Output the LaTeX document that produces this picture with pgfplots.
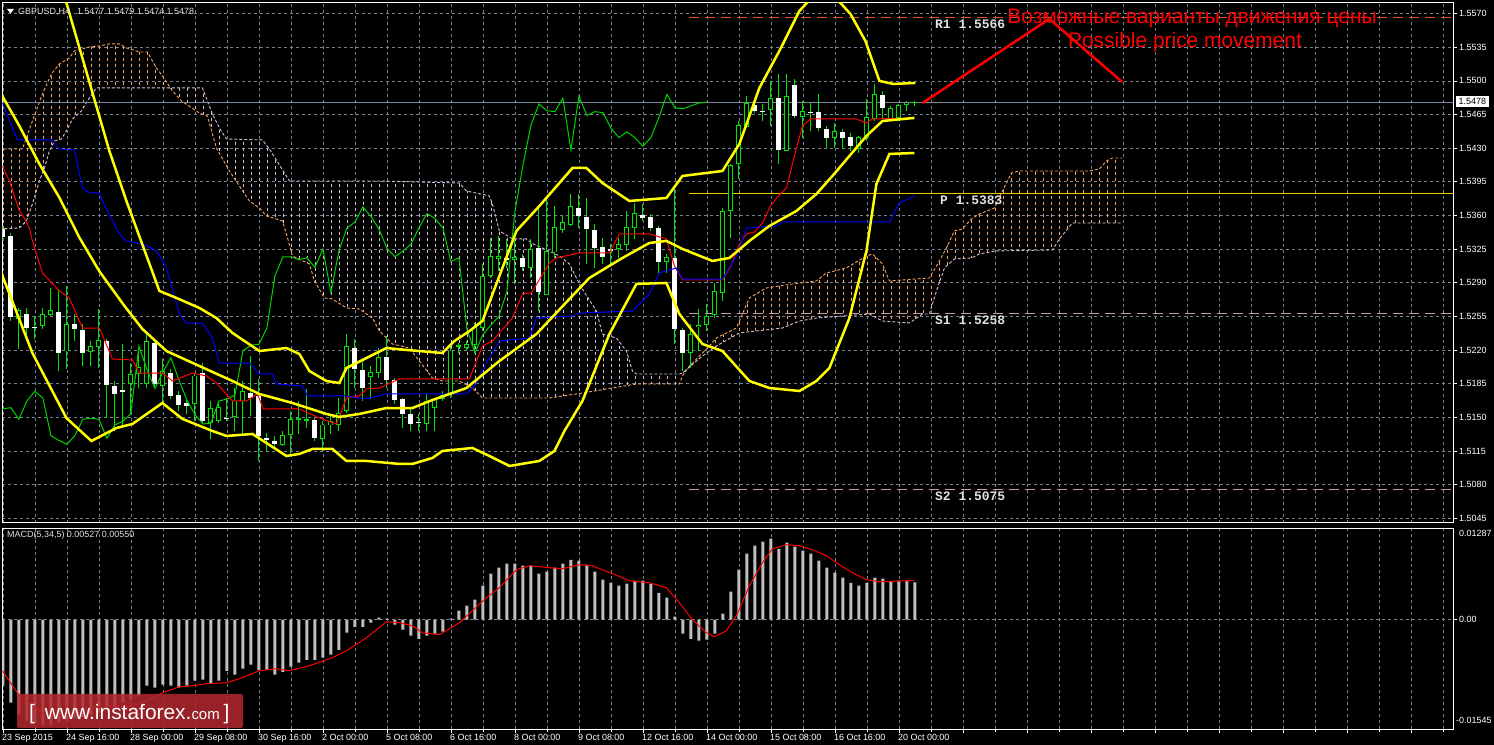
\documentclass[border=0pt]{standalone}
\usepackage{fontspec}
\setmainfont{Liberation Sans}
\newfontfamily\pivfont{Liberation Mono}
\usepackage{xcolor}
\usepackage{pgfplots}
\usepackage{pgfplotstable}
\pgfplotsset{compat=1.18}
\usepgfplotslibrary{fillbetween}
\usetikzlibrary{patterns}
\pagecolor{black}

\definecolor{cgreen}{RGB}{0,230,0}
\definecolor{chik}{RGB}{0,210,0}
\definecolor{gridc}{RGB}{118,130,146}
\definecolor{bbyel}{RGB}{255,255,0}
\definecolor{sandyC}{RGB}{244,164,96}
\definecolor{thistleC}{RGB}{216,191,216}
\definecolor{r1c}{RGB}{225,85,35}
\definecolor{pc}{RGB}{240,200,0}
\definecolor{sc}{RGB}{196,160,160}
\definecolor{lsg}{RGB}{119,136,153}
\definecolor{silverC}{RGB}{192,192,192}
\definecolor{wmred}{RGB}{178,40,46}
\definecolor{kij}{RGB}{0,0,255}
\definecolor{ten}{RGB}{255,0,0}
\definecolor{labc}{RGB}{225,225,225}

\pgfdeclarepatternformonly{vdash}{\pgfqpoint{0bp}{0bp}}{\pgfqpoint{8bp}{6bp}}{\pgfqpoint{8bp}{6bp}}{%
  \pgfsetlinewidth{0.9bp}%
  \pgfpathmoveto{\pgfqpoint{4bp}{0bp}}%
  \pgfpathlineto{\pgfqpoint{4bp}{3.5bp}}%
  \pgfusepath{stroke}}

\pgfplotstableread{
k O H L C
0 1.5346 1.5349 1.5333 1.5338
1 1.5339 1.5342 1.5250 1.5254
2 1.5253 1.5264 1.5221 1.5261
3 1.5258 1.5264 1.5232 1.5243
4 1.5244 1.5255 1.5231 1.5243
5 1.5246 1.5264 1.5242 1.5257
6 1.5257 1.5285 1.5255 1.5261
7 1.5260 1.5284 1.5198 1.5217
8 1.5219 1.5287 1.5200 1.5247
9 1.5247 1.5257 1.5229 1.5242
10 1.5241 1.5247 1.5203 1.5217
11 1.5218 1.5229 1.5203 1.5224
12 1.5224 1.5263 1.5201 1.5230
13 1.5229 1.5232 1.5149 1.5184
14 1.5183 1.5188 1.5136 1.5174
15 1.5178 1.5226 1.5139 1.5176
16 1.5185 1.5206 1.5154 1.5195
17 1.5196 1.5222 1.5180 1.5202
18 1.5185 1.5240 1.5180 1.5229
19 1.5227 1.5232 1.5180 1.5185
20 1.5183 1.5211 1.5164 1.5198
21 1.5196 1.5200 1.5169 1.5172
22 1.5173 1.5177 1.5157 1.5163
23 1.5165 1.5170 1.5153 1.5162
24 1.5164 1.5195 1.5146 1.5193
25 1.5196 1.5206 1.5144 1.5146
26 1.5145 1.5167 1.5127 1.5159
27 1.5147 1.5165 1.5144 1.5160
28 1.5149 1.5170 1.5146 1.5148
29 1.5151 1.5180 1.5136 1.5167
30 1.5167 1.5188 1.5133 1.5177
31 1.5175 1.5214 1.5151 1.5170
32 1.5172 1.5190 1.5105 1.5131
33 1.5128 1.5134 1.5115 1.5126
34 1.5125 1.5131 1.5118 1.5122
35 1.5122 1.5136 1.5120 1.5131
36 1.5132 1.5157 1.5110 1.5148
37 1.5148 1.5167 1.5133 1.5149
38 1.5147 1.5179 1.5139 1.5148
39 1.5147 1.5149 1.5125 1.5128
40 1.5128 1.5146 1.5115 1.5142
41 1.5142 1.5153 1.5133 1.5146
42 1.5143 1.5170 1.5136 1.5154
43 1.5157 1.5237 1.5154 1.5224
44 1.5222 1.5231 1.5180 1.5200
45 1.5199 1.5209 1.5167 1.5180
46 1.5192 1.5203 1.5169 1.5197
47 1.5197 1.5222 1.5191 1.5212
48 1.5213 1.5235 1.5180 1.5189
49 1.5189 1.5191 1.5164 1.5168
50 1.5169 1.5170 1.5139 1.5153
51 1.5153 1.5159 1.5136 1.5143
52 1.5145 1.5153 1.5136 1.5144
53 1.5144 1.5174 1.5136 1.5167
54 1.5160 1.5170 1.5136 1.5169
55 1.5170 1.5177 1.5167 1.5173
56 1.5175 1.5224 1.5170 1.5219
57 1.5224 1.5227 1.5217 1.5225
58 1.5223 1.5229 1.5219 1.5226
59 1.5226 1.5248 1.5217 1.5243
60 1.5243 1.5310 1.5240 1.5297
61 1.5298 1.5337 1.5295 1.5317
62 1.5315 1.5339 1.5302 1.5317
63 1.5316 1.5336 1.5305 1.5314
64 1.5314 1.5334 1.5289 1.5316
65 1.5316 1.5320 1.5302 1.5306
66 1.5306 1.5336 1.5295 1.5325
67 1.5326 1.5368 1.5261 1.5280
68 1.5278 1.5378 1.5277 1.5323
69 1.5322 1.5370 1.5316 1.5347
70 1.5345 1.5359 1.5342 1.5353
71 1.5351 1.5382 1.5349 1.5369
72 1.5368 1.5382 1.5347 1.5359
73 1.5358 1.5378 1.5310 1.5346
74 1.5345 1.5351 1.5305 1.5326
75 1.5327 1.5337 1.5310 1.5317
76 1.5325 1.5330 1.5310 1.5323
77 1.5326 1.5337 1.5316 1.5330
78 1.5330 1.5365 1.5323 1.5347
79 1.5347 1.5373 1.5336 1.5362
80 1.5361 1.5372 1.5354 1.5357
81 1.5358 1.5362 1.5344 1.5347
82 1.5347 1.5349 1.5300 1.5312
83 1.5312 1.5320 1.5300 1.5316
84 1.5316 1.5388 1.5226 1.5242
85 1.5241 1.5243 1.5198 1.5217
86 1.5217 1.5247 1.5201 1.5236
87 1.5244 1.5263 1.5219 1.5246
88 1.5247 1.5268 1.5240 1.5255
89 1.5257 1.5290 1.5253 1.5281
90 1.5280 1.5368 1.5271 1.5364
91 1.5365 1.5414 1.5337 1.5412
92 1.5414 1.5458 1.5398 1.5454
93 1.5453 1.5484 1.5451 1.5476
94 1.5475 1.5477 1.5467 1.5469
95 1.5469 1.5476 1.5458 1.5468
96 1.5470 1.5500 1.5453 1.5482
97 1.5482 1.5507 1.5414 1.5428
98 1.5428 1.5507 1.5427 1.5484
99 1.5496 1.5502 1.5461 1.5464
100 1.5463 1.5479 1.5441 1.5468
101 1.5468 1.5477 1.5448 1.5467
102 1.5468 1.5486 1.5448 1.5451
103 1.5450 1.5453 1.5430 1.5441
104 1.5441 1.5456 1.5430 1.5447
105 1.5447 1.5450 1.5429 1.5441
106 1.5442 1.5446 1.5427 1.5432
107 1.5430 1.5443 1.5425 1.5441
108 1.5441 1.5481 1.5437 1.5462
109 1.5461 1.5497 1.5458 1.5486
110 1.5485 1.5490 1.5461 1.5472
111 1.5461 1.5474 1.5458 1.5471
112 1.5462 1.5476 1.5458 1.5474
113 1.5475 1.5479 1.5469 1.5477
114 1.5477 1.5479 1.5474 1.5478
}\candles

\pgfplotstableread{
k m
0 -0.00930
1 -0.01169
2 -0.01339
3 -0.01423
4 -0.01451
5 -0.01479
6 -0.01479
7 -0.01451
8 -0.01423
9 -0.01395
10 -0.01367
11 -0.01339
12 -0.01310
13 -0.01240
14 -0.01212
15 -0.01169
16 -0.01127
17 -0.01071
18 -0.00930
19 -0.00958
20 -0.00916
21 -0.00930
22 -0.00958
23 -0.00930
24 -0.00859
25 -0.00845
26 -0.00888
27 -0.00859
28 -0.00719
29 -0.00775
30 -0.00690
31 -0.00634
32 -0.00705
33 -0.00705
34 -0.00775
35 -0.00733
36 -0.00662
37 -0.00606
38 -0.00564
39 -0.00564
40 -0.00535
41 -0.00493
42 -0.00423
43 -0.00183
44 -0.00099
45 -0.00099
46 -0.00042
47 0.00028
48 0.00014
49 -0.00070
50 -0.00141
51 -0.00225
52 -0.00268
53 -0.00225
54 -0.00197
55 -0.00169
56 0.00014
57 0.00127
58 0.00197
59 0.00282
60 0.00479
61 0.00648
62 0.00733
63 0.00789
64 0.00789
65 0.00761
66 0.00761
67 0.00648
68 0.00676
69 0.00733
70 0.00789
71 0.00845
72 0.00831
73 0.00775
74 0.00676
75 0.00564
76 0.00521
77 0.00479
78 0.00507
79 0.00550
80 0.00550
81 0.00507
82 0.00380
83 0.00310
84 0.00042
85 -0.00197
86 -0.00268
87 -0.00296
88 -0.00282
89 -0.00197
90 0.00085
91 0.00395
92 0.00705
93 0.00930
94 0.01043
95 0.01099
96 0.01141
97 0.01000
98 0.01085
99 0.01029
100 0.00972
101 0.00930
102 0.00831
103 0.00733
104 0.00662
105 0.00592
106 0.00521
107 0.00479
108 0.00521
109 0.00592
110 0.00578
111 0.00535
112 0.00550
113 0.00550
114 0.00527
}\macdhist

\pgfplotsset{
  mtgrid/.style={grid=both, major grid style={gridc, line width=0.8bp, dash pattern=on 3bp off 3bp},
    minor grid style={gridc, line width=0.8bp, dash pattern=on 3bp off 3bp}},
  wick/.style={draw=none, mark=none, error bars/.cd, y dir=plus, y explicit, error mark=none,
    error bar style={draw=cgreen, line width=1bp, solid}},
  body/.style 2 args={draw=none, mark=none, error bars/.cd, y dir=plus, y explicit, error mark=none,
    error bar style={draw=#1, line width=#2, solid}},
}

\begin{document}
\begin{tikzpicture}[x=1bp,y=1bp]
\path (0,0) rectangle (1494,745);

% ---------------- main price panel (prices plotted relative to 1.5 to keep TeX dimensions small) ----------------
\begin{axis}[
  at={(3,231)}, anchor=south west,
  width=1451bp, height=520bp, scale only axis,
  xmin=-0.0625, xmax=181.3125,
  y filter/.expression={y-1.5},
  ymin=0.00401, ymax=0.05811,
  axis line style={white, line width=1bp},
  xtick={0,4,...,180}, xticklabels={}, xtick style={draw=none},
  ytick={0.0045,0.0080,0.0115,0.0150,0.0185,0.0220,0.0255,0.0290,0.0325,0.0360,0.0395,0.0430,0.0465,0.0500,0.0535,0.0570},
  yticklabels={1.5045,1.5080,1.5115,1.5150,1.5185,1.5220,1.5255,1.5290,1.5325,1.5360,1.5395,1.5430,1.5465,1.5500,1.5535,1.5570},
  ytick pos=right, yticklabel pos=right,
  tick align=outside, major tick length=4bp,
  ytick style={white, line width=0.8bp},
  yticklabel style={white, font=\fontsize{9}{10}\selectfont, inner sep=1.5bp},
  scaled y ticks=false,
  grid=major, major grid style={gridc, line width=0.8bp, dash pattern=on 3bp off 3bp},
]
% Ichimoku cloud
\addplot[name path=spanA, sandyC, line width=0.9bp, dash pattern=on 3bp off 2bp] coordinates {
(-0.44,1.54292) (2.44,1.54292) (3.69,1.54583) (4.94,1.54864) (6.06,1.55072) (7.06,1.55176) (8.31,1.55239) (8.94,1.55312) (10.81,1.55353) (12.06,1.55364) (13.31,1.55385) (14.56,1.55385) (15.44,1.55343) (17.06,1.55301) (18.06,1.55301) (19.19,1.55135) (19.94,1.55052) (21.19,1.54896) (22.31,1.54792) (24.56,1.54667) (25.56,1.54635) (26.69,1.54302) (28.31,1.54063) (30.81,1.53751) (32.06,1.53678) (32.94,1.53595) (34.94,1.53543) (35.44,1.53408) (36.19,1.53179) (38.31,1.53096) (38.94,1.52919) (40.19,1.52742) (41.19,1.52731) (42.94,1.52638) (44.56,1.52627) (46.19,1.52533) (47.06,1.52398) (48.69,1.52263) (50.81,1.52221) (52.06,1.52086) (53.69,1.51909) (54.94,1.51878) (57.06,1.51878) (58.69,1.51805) (59.94,1.51701) (68.31,1.51701) (72.44,1.51753) (79.19,1.51847) (84.56,1.51847) (84.94,1.51930) (85.81,1.52034) (87.44,1.52169) (88.31,1.52242) (89.19,1.52326) (91.69,1.52430) (92.44,1.52575) (93.31,1.52742) (95.44,1.52846) (98.69,1.52887) (101.69,1.52919) (102.94,1.53002) (105.44,1.53054) (107.94,1.53179) (108.69,1.53199) (109.94,1.53096) (110.81,1.52919) (115.81,1.52950) (117.06,1.53127) (117.94,1.53262) (118.94,1.53439) (119.94,1.53460) (121.06,1.53564) (122.06,1.53616) (123.94,1.53678) (124.94,1.53855) (126.06,1.54042) (127.06,1.54063) (135.81,1.54063) (137.06,1.54084) (137.94,1.54167) (138.69,1.54198) (139.94,1.54198)};
\addplot[name path=spanB, thistleC, line width=0.9bp, dash pattern=on 3bp off 2bp] coordinates {
(-0.44,1.53460) (2.06,1.53470) (2.94,1.53543) (3.69,1.53720) (4.56,1.53959) (5.19,1.54094) (5.81,1.54271) (6.44,1.54375) (7.31,1.54396) (7.94,1.54479) (8.69,1.54604) (9.81,1.54687) (10.81,1.54823) (11.69,1.54927) (24.94,1.54927) (26.19,1.54656) (27.06,1.54511) (27.94,1.54396) (32.44,1.54386) (33.31,1.54292) (35.81,1.53959) (47.06,1.53959) (57.06,1.53938) (57.94,1.53855) (60.81,1.53803) (61.19,1.53720) (62.06,1.53439) (63.69,1.53356) (65.44,1.53356) (66.06,1.53314) (69.56,1.53179) (70.81,1.53096) (72.06,1.52888) (72.44,1.52835) (74.19,1.52606) (74.94,1.52367) (76.69,1.52325) (77.94,1.52190) (78.69,1.51982) (79.19,1.51951) (84.56,1.51951) (84.94,1.51961) (87.44,1.52138) (89.19,1.52242) (92.06,1.52378) (97.44,1.52429) (99.56,1.52502) (101.69,1.52533) (108.31,1.52575) (109.94,1.52502) (113.31,1.52481) (114.94,1.52575) (115.81,1.52575) (116.69,1.52815) (117.69,1.53054) (118.94,1.53148) (121.06,1.53158) (122.06,1.53200) (124.19,1.53231) (131.19,1.53241) (132.06,1.53356) (133.69,1.53522) (139.94,1.53522)};
\addplot[pattern=vdash, pattern color=sandyC, draw=none] fill between[of=spanA and spanB, soft clip={domain=-1:20.94}];
\addplot[pattern=vdash, pattern color=thistleC, draw=none] fill between[of=spanA and spanB, soft clip={domain=20.94:85.7}];
\addplot[pattern=vdash, pattern color=sandyC, draw=none] fill between[of=spanA and spanB, soft clip={domain=85.7:141}];

% pivot levels and current price
\addplot[r1c, line width=1bp, dash pattern=on 10bp off 6bp] coordinates {(85.8,1.5566) (182,1.5566)};
\addplot[pc, line width=1bp] coordinates {(85.8,1.5383) (182,1.5383)};
\addplot[sc, line width=1bp, dash pattern=on 10bp off 6bp] coordinates {(85.8,1.5258) (182,1.5258)};
\addplot[sc, line width=1bp, dash pattern=on 10bp off 6bp] coordinates {(85.8,1.5075) (182,1.5075)};
\addplot[lsg, line width=1bp] coordinates {(-1,1.5478) (182,1.5478)};

% candles
\addplot[wick] table[x=k, y=L, y error expr=\thisrow{H}-\thisrow{L}] {\candles};
\addplot[restrict expr to domain={\thisrow{C}-\thisrow{O}}{0:1}, body={cgreen}{5bp}]
  table[x=k, y expr=\thisrow{O}-0.00005, y error expr=\thisrow{C}-\thisrow{O}+0.0001] {\candles};
\addplot[restrict expr to domain={\thisrow{C}-\thisrow{O}}{0:1}, body={black}{3bp}]
  table[x=k, y expr=\thisrow{O}+0.00005, y error expr=\thisrow{C}-\thisrow{O}-0.0001] {\candles};
\addplot[restrict expr to domain={\thisrow{O}-\thisrow{C}}{0:1}, body={white}{5bp}]
  table[x=k, y=C, y error expr=\thisrow{O}-\thisrow{C}] {\candles};

% Ichimoku lines
\addplot[chik, line width=1bp] table[x expr=\thisrow{k}-26, y=C] {\candles};
\addplot[ten, line width=1bp] coordinates {
(-0.06,1.54115) (0.81,1.53959) (2.06,1.53647) (2.69,1.53574) (3.31,1.53470) (3.69,1.53335) (4.94,1.53002) (7.06,1.52815) (8.31,1.52742) (9.94,1.52429) (12.06,1.52429) (13.69,1.52107) (16.19,1.52097) (17.06,1.51961) (19.94,1.51961) (21.19,1.51878) (23.69,1.51961) (25.44,1.51930) (26.69,1.51857) (28.69,1.51670) (30.44,1.51670) (31.81,1.51743) (32.56,1.51587) (37.06,1.51587) (39.56,1.51493) (41.69,1.51431) (42.94,1.51701) (44.56,1.51722) (45.44,1.51795) (47.06,1.51805) (49.56,1.51899) (58.31,1.51899) (59.94,1.52242) (61.19,1.52294) (63.69,1.52533) (64.94,1.52784) (66.06,1.52794) (68.31,1.53106) (69.19,1.53158) (72.06,1.53210) (75.81,1.53210) (77.06,1.53408) (80.81,1.53408) (82.94,1.53356) (83.94,1.53075) (84.94,1.52929) (89.94,1.52929) (90.94,1.53064) (91.94,1.53283) (92.94,1.53408) (93.94,1.53428) (94.94,1.53522) (95.94,1.53699) (96.94,1.53803) (97.94,1.53886) (98.94,1.54219) (99.94,1.54531) (100.94,1.54604) (106.69,1.54604) (107.94,1.54562) (108.69,1.54604) (113.94,1.54615)};
\addplot[kij, line width=1bp] coordinates {
(-0.06,1.54771) (1.81,1.54386) (6.06,1.54386) (7.06,1.54292) (8.94,1.54282) (9.94,1.53886) (10.81,1.53834) (12.06,1.53834) (12.44,1.53751) (14.56,1.53408) (15.44,1.53335) (17.44,1.53304) (19.19,1.53231) (20.44,1.53054) (22.06,1.52575) (22.94,1.52481) (24.94,1.52481) (26.19,1.52325) (27.06,1.52065) (30.81,1.52065) (32.06,1.51951) (33.69,1.51951) (34.19,1.51847) (37.44,1.51826) (38.06,1.51722) (42.94,1.51722) (44.31,1.51701) (45.81,1.51701) (47.94,1.51743) (57.94,1.51743) (59.19,1.51857) (60.44,1.52065) (62.06,1.52294) (65.81,1.52325) (66.69,1.52533) (71.19,1.52554) (72.06,1.52585) (78.69,1.52606) (79.94,1.52711) (80.81,1.52784) (82.06,1.53002) (84.19,1.53054) (84.94,1.52939) (89.94,1.52939) (91.69,1.53179) (92.94,1.53470) (96.69,1.53491) (97.44,1.53533) (110.81,1.53533) (112.06,1.53730) (113.94,1.53803)};

% Bollinger bands
\addplot[bbyel, line width=2.5bp] coordinates {
(5.19,1.56248) (7.94,1.55811) (13.31,1.54271) (15.44,1.53751) (19.56,1.52815) (21.69,1.52742) (24.56,1.52638) (26.69,1.52533) (28.69,1.52378) (32.06,1.52190) (35.44,1.52221) (37.06,1.52159) (38.31,1.51982) (40.44,1.51878) (42.06,1.51857) (42.94,1.52013) (45.44,1.52117) (47.94,1.52221) (50.44,1.52201) (54.94,1.52169) (56.44,1.52294) (58.31,1.52398) (59.94,1.52502) (62.06,1.52971) (64.19,1.53439) (67.06,1.53699) (71.19,1.54094) (72.94,1.54094) (74.94,1.53938) (78.31,1.53751) (82.94,1.53782) (84.94,1.54011) (89.94,1.54063) (92.06,1.54344) (94.56,1.54927) (97.06,1.55312) (99.56,1.55728) (101.44,1.55894) (103.06,1.55915) (104.69,1.55811) (105.94,1.55697) (107.81,1.55416) (109.56,1.55000) (111.31,1.54968) (114.06,1.54979)};
\addplot[bbyel, line width=2.5bp] coordinates {
(-0.44,1.54896) (2.06,1.54531) (4.56,1.54136) (7.06,1.53786) (9.56,1.53370) (12.06,1.53019) (15.19,1.52659) (17.44,1.52419) (20.44,1.52190) (24.56,1.52034) (28.69,1.51878) (32.06,1.51743) (36.19,1.51649) (40.44,1.51535) (42.06,1.51504) (44.56,1.51535) (47.94,1.51597) (51.19,1.51597) (53.69,1.51680) (57.94,1.51805) (62.06,1.52086) (66.69,1.52367) (70.81,1.52731) (73.31,1.52950) (77.44,1.53158) (80.81,1.53314) (82.94,1.53335) (84.94,1.53252) (88.69,1.53127) (90.81,1.53158) (93.31,1.53335) (95.81,1.53491) (99.19,1.53647) (101.69,1.53824) (103.69,1.54011) (107.94,1.54427) (109.94,1.54583) (113.94,1.54615)};
\addplot[bbyel, line width=2.5bp] coordinates {
(-0.44,1.53054) (3.69,1.52169) (7.94,1.51493) (11.06,1.51254) (14.19,1.51389) (16.19,1.51431) (19.94,1.51649) (22.44,1.51483) (26.19,1.51358) (27.94,1.51306) (31.19,1.51327) (35.44,1.51098) (37.06,1.51119) (38.69,1.51171) (41.19,1.51171) (42.94,1.51046) (45.44,1.51046) (49.56,1.51015) (51.19,1.51015) (53.69,1.51077) (54.94,1.51150) (58.69,1.51181) (60.81,1.51098) (63.31,1.50994) (67.06,1.51046) (68.94,1.51150) (70.19,1.51358) (72.44,1.51670) (75.81,1.52367) (79.19,1.52888) (82.94,1.52898) (84.56,1.52575) (87.44,1.52263) (89.94,1.52190) (93.31,1.51878) (95.81,1.51805) (99.56,1.51774) (101.69,1.51878) (103.31,1.52013) (105.81,1.52533) (107.94,1.53231) (109.19,1.53928) (110.81,1.54240) (113.94,1.54250)};

% possible price movement
\addplot[red, line width=2.5bp] coordinates {(114.94,1.5477) (130.8,1.55645)};
\addplot[red, line width=2.5bp] coordinates {(130.8,1.55645) (139.9,1.54989)};
\end{axis}

% ---------------- MACD panel ----------------
\begin{axis}[
  at={(3,22)}, anchor=south west,
  width=1451bp, height=201bp, scale only axis,
  xmin=-0.0625, xmax=181.3125,
  ymin=-0.01545, ymax=0.01287,
  axis line style={white, line width=1bp},
  xtick={0,8,...,176}, minor xtick={4,12,...,180},
  xticklabels={23 Sep 2015,24 Sep 16:00,28 Sep 00:00,29 Sep 08:00,30 Sep 16:00,2 Oct 00:00,5 Oct 08:00,6 Oct 16:00,8 Oct 00:00,9 Oct 08:00,12 Oct 16:00,14 Oct 00:00,15 Oct 08:00,16 Oct 16:00,20 Oct 00:00,,,,,,,,},
  xtick pos=bottom, ytick pos=right,
  tick align=outside, major tick length=4bp, minor tick length=2.5bp,
  tick style={white, line width=0.8bp},
  xticklabel style={white, font=\fontsize{9}{10}\selectfont, anchor=north west, inner sep=0pt, xshift=-1bp, yshift=-1bp},
  ytick={0}, yticklabels={0.00},
  yticklabel style={white, font=\fontsize{9}{10}\selectfont, inner sep=1.5bp},
  scaled y ticks=false,
  mtgrid,
]
\addplot[ybar, bar width=3bp, fill=silverC, draw=none] table[x=k, y=m] {\macdhist};
\addplot[ten, line width=1bp] coordinates {
(-0.06,-0.00719) (2.06,-0.01071) (4.94,-0.01310) (7.94,-0.01353) (12.06,-0.01226) (16.19,-0.01212) (17.44,-0.01169) (19.94,-0.01029) (22.06,-0.00944) (23.69,-0.00930) (25.44,-0.00902) (27.94,-0.00888) (29.56,-0.00831) (32.06,-0.00719) (34.19,-0.00690) (35.81,-0.00719) (38.31,-0.00648) (41.19,-0.00535) (42.94,-0.00437) (45.44,-0.00254) (47.94,-0.00028) (49.56,-0.00042) (51.19,-0.00085) (52.44,-0.00183) (54.56,-0.00211) (57.06,-0.00042) (58.69,0.00127) (60.44,0.00310) (62.06,0.00451) (64.19,0.00705) (65.81,0.00761) (68.31,0.00733) (69.94,0.00719) (72.06,0.00775) (73.69,0.00761) (76.19,0.00648) (78.31,0.00550) (80.81,0.00521) (82.94,0.00451) (84.56,0.00240) (86.19,0.00000) (87.94,-0.00183) (88.94,-0.00240) (90.44,-0.00155) (91.69,0.00056) (93.31,0.00479) (94.94,0.00803) (96.19,0.01000) (97.94,0.01057) (99.56,0.01043) (101.19,0.00986) (102.94,0.00902) (104.56,0.00775) (106.19,0.00662) (107.94,0.00564) (109.56,0.00535) (113.31,0.00550) (113.94,0.00550)};
\end{axis}

% ---------------- texts and decorations ----------------
\fill[white] (7,736) -- (14,736) -- (10.5,731.5) -- cycle;
\node[anchor=base west, inner sep=0pt, text=labc, font=\fontsize{9}{10}\selectfont] at (18,730)
  {GBPUSD,H4\hspace{7bp}1.5477 1.5479 1.5474 1.5478};
\node[anchor=base west, inner sep=0pt, text=labc, font=\fontsize{9}{10}\selectfont] at (7,207)
  {MACD(5,34,5) 0.00527 0.00550};

\node[anchor=base west, inner sep=0pt, text=labc, font=\pivfont\bfseries\fontsize{13}{13}\selectfont] at (935,716) {R1 1.5566};
\node[anchor=base west, inner sep=0pt, text=labc, font=\pivfont\bfseries\fontsize{13}{13}\selectfont] at (940,540) {P 1.5383};
\node[anchor=base west, inner sep=0pt, text=labc, font=\pivfont\bfseries\fontsize{13}{13}\selectfont] at (935,420) {S1 1.5258};
\node[anchor=base west, inner sep=0pt, text=labc, font=\pivfont\bfseries\fontsize{13}{13}\selectfont] at (935,244) {S2 1.5075};

\node[anchor=base, inner sep=0pt, text=red, font=\fontsize{21}{21}\selectfont] at (1192,721) {Возможные варианты движения цены};
\node[anchor=base, inner sep=0pt, text=red, font=\fontsize{21}{21}\selectfont] at (1185,697) {Possible price movement};

\node[anchor=west, fill=white, text=black, inner xsep=2.5bp, inner ysep=2.2bp, font=\fontsize{9}{10}\selectfont] at (1456,643.5) {1.5478};
\node[anchor=west, inner sep=0pt, text=white, font=\fontsize{9}{10}\selectfont] at (1459,212) {0.01287};
\node[anchor=west, inner sep=0pt, text=white, font=\fontsize{9}{10}\selectfont] at (1456,25) {-0.01545};

\fill[wmred, opacity=0.86, rounded corners=2bp] (17,17) rectangle (243,51);
\node[anchor=base west, inner sep=0pt, text=white, font=\fontsize{21}{21}\selectfont] at (29,25)
  {[\hspace{10bp}www.instaforex.{\fontsize{15}{15}\selectfont com}\hspace{4bp}]};

\pgfresetboundingbox
\path[use as bounding box] (0,0) rectangle (1494,745);
\end{tikzpicture}
\end{document}
